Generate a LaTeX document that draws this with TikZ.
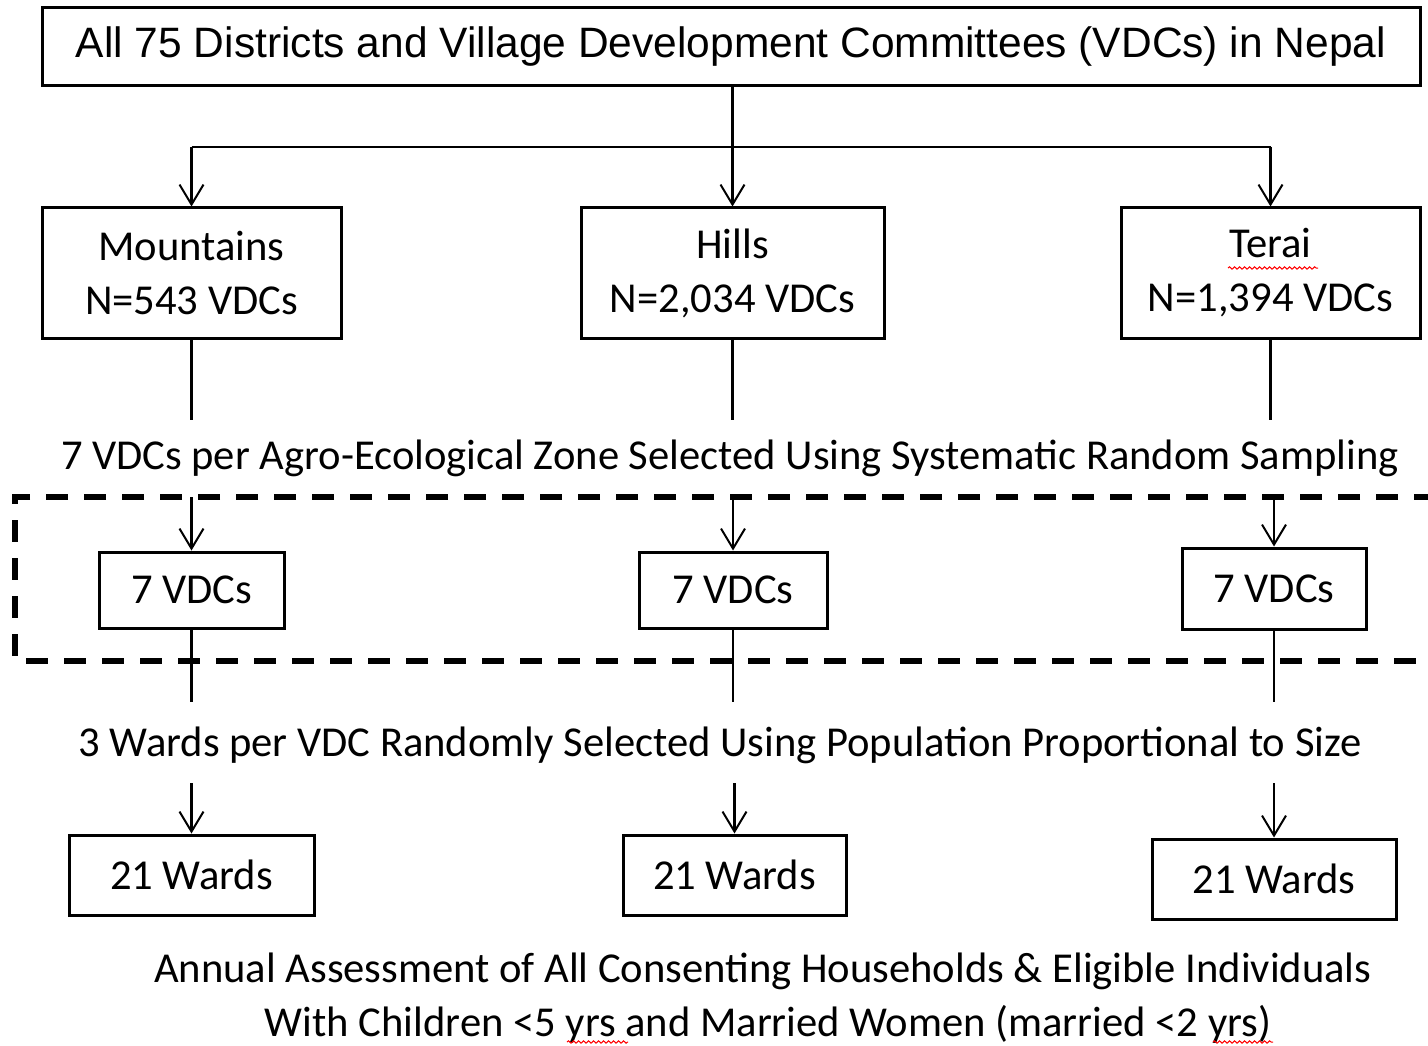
\documentclass[tikz,border=0pt]{standalone}
\usepackage{fontspec}
\setmainfont{Carlito}
\newfontfamily\arialf{Liberation Sans}
\usetikzlibrary{arrows.meta,decorations.pathmorphing}
\begin{document}
\begin{tikzpicture}[x=1pt,y=-1pt,
  box/.style={draw, line width=3pt, inner sep=0pt, align=center, font=\fontsize{42.6}{54}\selectfont},
  conn/.style={line width=2.5pt},
  arr/.style={conn, -{Straight Barb[length=20pt,width=24pt,line width=2pt]}},
  lbl/.style={font=\fontsize{42.6}{54}\selectfont, inner sep=0pt},
  squig/.style={red, line width=1pt, decorate, decoration={snake, amplitude=1.2pt, segment length=5pt}},
  dashbox/.style={line width=6pt, dash pattern=on 22pt off 16pt}
]
\path[use as bounding box, fill=white] (0,0) rectangle (1428,1046);

\node[box, minimum width=1378pt, minimum height=78pt, font=\arialf\fontsize{42.5}{50}\selectfont] (top) at (731,47) {All 75 Districts and Village Development Committees (VDCs) in Nepal};

\node[box, minimum width=299pt, minimum height=130pt] (mount) at (191.5,273) {Mountains\\N=543 VDCs};
\node[box, minimum width=303pt, minimum height=130pt] (hills) at (732.5,273) {Hills\\N=2,034 VDCs};
\node[box, minimum width=299pt, minimum height=130pt] (terai) at (1270.5,273) {Terai\\N=1,394 VDCs};

\node[box, minimum width=185pt, minimum height=76pt] (vdc1) at (191.5,590) {7 VDCs};
\node[box, minimum width=188pt, minimum height=76pt] (vdc2) at (733,590) {7 VDCs};
\node[box, minimum width=184pt, minimum height=81pt] (vdc3) at (1274,588.5) {7 VDCs};

\node[box, minimum width=245pt, minimum height=80pt] (w1) at (191.5,875) {21 Wards};
\node[box, minimum width=223pt, minimum height=80pt] (w2) at (734.5,875) {21 Wards};
\node[box, minimum width=244pt, minimum height=80pt] (w3) at (1274,879) {21 Wards};

\node[lbl] (sel1) at (730,458) {7 VDCs per Agro-Ecological Zone Selected Using Systematic Random Sampling};
\node[lbl] (sel2) at (720,745) {3 Wards per VDC Randomly Selected Using Population Proportional to Size};
\node[lbl] (ann1) at (763,971) {Annual Assessment of All Consenting Households \& Eligible Individuals};
\node[lbl] (ann2) at (768,1024) {With Children <5 yrs and Married Women (married <2 yrs)};

% top distribution
\coordinate (bus) at (0,147);
\draw[conn] (mount.north |- bus) -- (terai.north |- bus);
\draw[arr] (top.south -| hills.north) -- (hills.north);
\draw[arr] (mount.north |- bus) -- (mount.north);
\draw[arr] (terai.north |- bus) -- (terai.north);

% zone stubs
\coordinate (z) at (0,420);
\draw[conn] (mount.south) -- (mount.south |- z);
\draw[conn] (hills.south) -- (hills.south |- z);
\draw[conn] (terai.south) -- (terai.south |- z);

% dashed region
\draw[dashbox] (1436,497) -- (15,497) -- (15,661) -- (1436,661);

\coordinate (d) at (0,497);
\draw[arr] (vdc1.north |- d) -- (vdc1.north);
\draw[arr] (vdc2.north |- d) -- (vdc2.north);
\draw[arr] (vdc3.north |- d) -- (vdc3.north);

\coordinate (v) at (0,702);
\draw[conn] (vdc1.south) -- (vdc1.south |- v);
\draw[conn] (vdc2.south) -- (vdc2.south |- v);
\draw[conn] (vdc3.south) -- (vdc3.south |- v);

\coordinate (wa) at (0,783);
\draw[arr] (w1.north |- wa) -- (w1.north);
\draw[arr] (w2.north |- wa) -- (w2.north);
\draw[arr] (w3.north |- wa) -- (w3.north);

% spell-check marks
\draw[squig] (1228,268) -- (1318,268);
\draw[squig] (567,1042) -- (628,1042);
\draw[squig] (1213,1042) -- (1273,1042);
\end{tikzpicture}
\end{document}
